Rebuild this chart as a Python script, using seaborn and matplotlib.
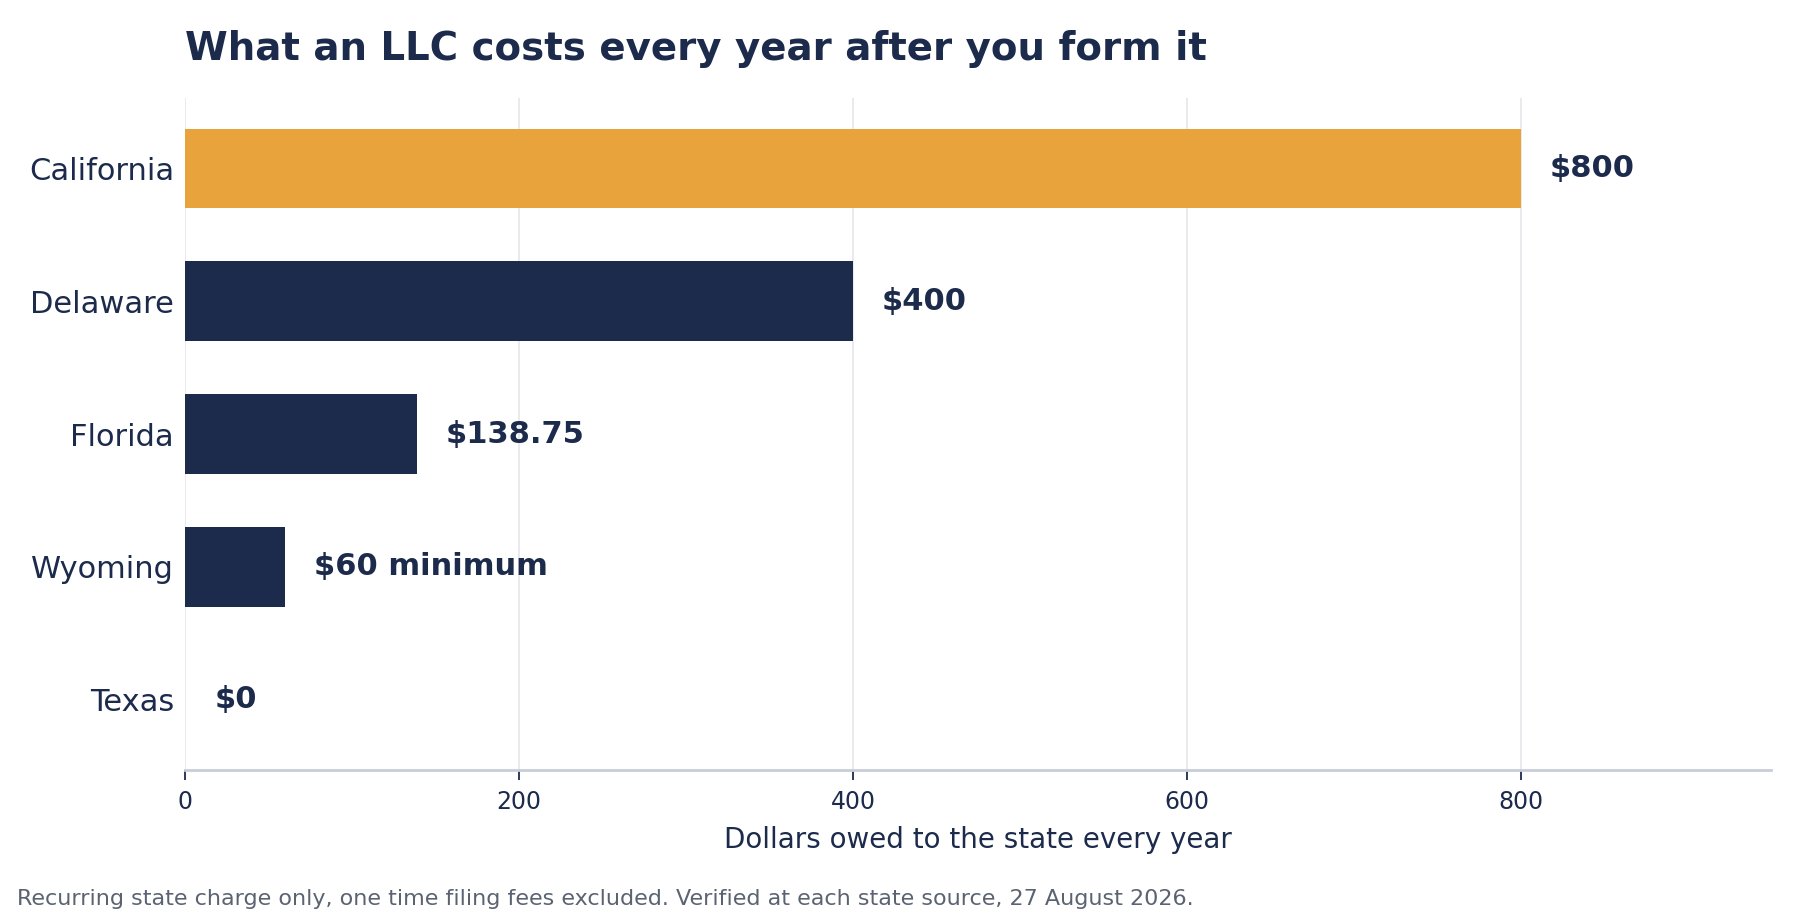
import matplotlib
matplotlib.use("Agg")
import matplotlib.pyplot as plt
import seaborn as sns
import pandas as pd

states = ["California", "Delaware", "Florida", "Wyoming", "Texas"]
costs = [800, 400, 138.75, 60, 0]
labels = ["$800", "$400", "$138.75", "$60 minimum", "$0"]
xticks = [0, 200, 400, 600, 800]

NAVY = "#1c2b4b"
ORANGE = "#e8a33c"
colors = {s: (ORANGE if s == "California" else NAVY) for s in states}

sns.set_theme(style="white")
plt.rcParams["font.family"] = ["DejaVu Sans"]

df = pd.DataFrame({"state": states, "cost": costs})

fig = plt.figure(figsize=(18, 9.19), dpi=100)
ax = fig.add_axes([0.1028, 0.162, 0.984 - 0.1028, 0.8934 - 0.162])

sns.barplot(data=df, x="cost", y="state", hue="state", palette=colors,
            order=states, width=0.6, legend=False, ax=ax, saturation=1,
            linewidth=0)

for cont, lab in zip(ax.containers, labels):
    ax.bar_label(cont, labels=[lab], padding=21, fontsize=22, fontweight="bold",
                 color=NAVY)

ax.set_xlim(0, 950)
ax.set_ylim(4.53, -0.53)
ax.set_xticks(xticks)
ax.set_xticklabels([str(t) for t in xticks])
ax.xaxis.grid(True, color="#e6e8ed", linewidth=1.3)
ax.set_axisbelow(True)
for side in ["top", "right", "left"]:
    ax.spines[side].set_visible(False)
ax.spines["bottom"].set_color("#c8cdd8")
ax.spines["bottom"].set_linewidth(2)

ax.tick_params(axis="x", length=7, width=1.3, color=NAVY, labelsize=17,
               labelcolor=NAVY, pad=7, bottom=True)
ax.tick_params(axis="y", length=0, labelsize=22, labelcolor=NAVY, pad=8)
ax.set_ylabel("")
ax.set_xlabel("Dollars owed to the state every year", fontsize=20, color=NAVY,
              labelpad=9)

fig.text(0.1028, 0.935, "What an LLC costs every year after you form it",
         fontsize=27.9, fontweight="bold", color=NAVY, ha="left", va="baseline")
fig.text(0.0096, 0.015,
         "Recurring state charge only, one time filing fees excluded. Verified at each state source, 27 August 2026.",
         fontsize=16, color="#5b6372", ha="left", va="baseline")

fig.savefig("out.png", dpi=100, facecolor="white")
